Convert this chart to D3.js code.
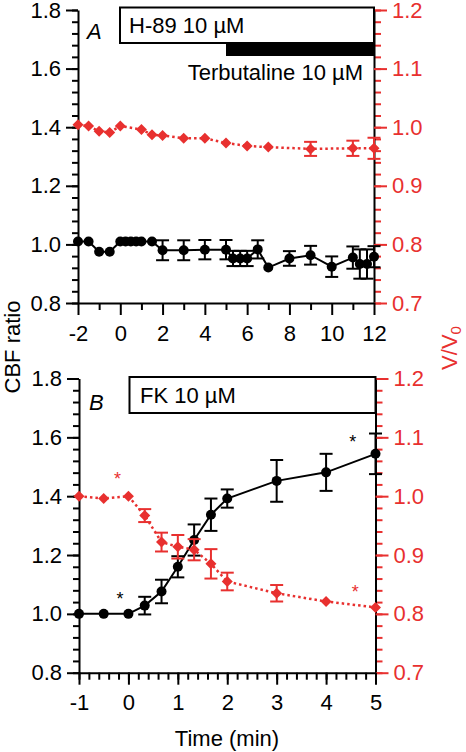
<!DOCTYPE html>
<html><head><meta charset="utf-8">
<script src="https://cdn.jsdelivr.net/npm/d3@7"></script>
<style>body{margin:0;background:#fff} text{font-family:"Liberation Sans",Arial,sans-serif}</style>
</head><body><svg id="c" width="466" height="752"></svg>
<script>
const RED = "#e8302f";
// ---- Panel A data ----
const timeA_cbf = [-2,-1.5,-1,-0.5,0,0.25,0.5,0.75,1,1.5,2,3,4,5,5.33,5.67,6,6.5,7,8,9,10,11,11.33,11.67,12];
const cbfA      = [1.01,1.01,0.975,0.975,1.01,1.01,1.01,1.01,1.01,1.01,0.98,0.98,0.982,0.982,0.952,0.952,0.952,0.983,0.921,0.952,0.963,0.924,0.955,0.933,0.933,0.958];
const cbfA_err  = [0,0,0,0,0,0,0,0,0,0,0.034,0.034,0.033,0.033,0.026,0.026,0.026,0.031,0,0.025,0.032,0.035,0.038,0.05,0.05,0.036];
const timeA_v   = [-2,-1.5,-1,-0.5,0,1,1.5,2,3,4,5,6,7,9,11,12];
const vA        = [1.004,1.002,0.993,0.991,1.002,0.996,0.987,0.986,0.981,0.981,0.973,0.968,0.966,0.963,0.964,0.964];
const vA_err    = [0,0,0,0,0,0,0,0,0,0,0,0,0,0.012,0.013,0.018];
// ---- Panel B data ----
const timeB     = [-1,-0.5,0,0.33,0.67,1,1.33,1.67,2,3,4,5];
const cbfB      = [1.0,1.0,1.0,1.028,1.076,1.16,1.251,1.337,1.392,1.452,1.481,1.544];
const cbfB_err  = [0,0,0,0.03,0.04,0.036,0.053,0.055,0.031,0.071,0.063,0.069];
const vB        = [1.0,0.996,1.0,0.967,0.922,0.914,0.909,0.885,0.855,0.835,0.821,0.811];
const vB_err    = [0,0,0,0.011,0.016,0.02,0.018,0.025,0.015,0.014,0,0];
// ---- ticks ----
const leftTicks = [0.8,1.0,1.2,1.4,1.6,1.8];
const rightTicks = [0.7,0.8,0.9,1.0,1.1,1.2];
const xTicksA = [-2,0,2,4,6,8,10,12];
const xTicksB = [-1,0,1,2,3,4,5];
// significance marks: [time, value, axis('L'|'R')]
const starsB = [[-0.17,1.056,"L"],[4.54,1.59,"L"],[-0.22,1.032,"R"],[4.59,0.84,"R"]];

const svg = d3.select("#c");
const FS = 22;
const intFmt = d => String(d);           // plain hyphen minus like the reference
const decFmt = d => d.toFixed(1);

function range(a,b,s){const r=[];for(let v=a;v<=b+1e-9;v+=s)r.push(+v.toFixed(4));return r;}

function panel(o){
  const g = svg.append("g");
  const x = d3.scaleLinear().domain(o.xd).range([o.x0,o.x1]);
  const y = d3.scaleLinear().domain([0.8,1.8]).range([o.y1,o.y0]);
  const yr = d3.scaleLinear().domain([0.7,1.2]).range([o.y1,o.y0]);

  // minor ticks
  g.append("g").attr("transform",`translate(${o.x0},0)`)
    .call(d3.axisLeft(y).tickValues(range(0.8,1.8,0.04)).tickSize(6).tickFormat("").tickSizeOuter(0))
    .call(s=>{s.select(".domain").remove();s.selectAll("line").attr("stroke","#000").attr("stroke-width",2);});
  g.append("g").attr("transform",`translate(${o.x1},0)`)
    .call(d3.axisRight(yr).tickValues(range(0.7,1.2,0.02)).tickSize(7).tickFormat("").tickSizeOuter(0))
    .call(s=>{s.select(".domain").remove();s.selectAll("line").attr("stroke",RED).attr("stroke-width",2);});
  g.append("g").attr("transform",`translate(0,${o.y1})`)
    .call(d3.axisBottom(x).tickValues(o.xminor).tickSize(7).tickFormat("").tickSizeOuter(0))
    .call(s=>{s.select(".domain").remove();s.selectAll("line").attr("stroke","#000").attr("stroke-width",2);});

  // major axes
  const la = g.append("g").attr("transform",`translate(${o.x0},0)`)
    .call(d3.axisLeft(y).tickValues(leftTicks).tickSize(12).tickPadding(5).tickFormat(decFmt).tickSizeOuter(0));
  la.select(".domain").attr("stroke-width",2);
  la.selectAll("line").attr("stroke-width",2);
  la.selectAll("text").attr("font-size",FS).attr("fill","#000");
  const ra = g.append("g").attr("transform",`translate(${o.x1},0)`)
    .call(d3.axisRight(yr).tickValues(rightTicks).tickSize(13).tickPadding(5).tickFormat(decFmt).tickSizeOuter(0));
  ra.select(".domain").attr("stroke","#000").attr("stroke-width",2);
  ra.selectAll("line").attr("stroke",RED).attr("stroke-width",2);
  ra.selectAll("text").attr("font-size",FS).attr("fill",RED);
  const ba = g.append("g").attr("transform",`translate(0,${o.y1})`)
    .call(d3.axisBottom(x).tickValues(o.xmajor).tickSize(12).tickPadding(10).tickFormat(intFmt).tickSizeOuter(0));
  ba.select(".domain").attr("stroke-width",2);
  ba.selectAll("line").attr("stroke-width",2);
  ba.selectAll("text").attr("font-size",FS).attr("fill","#000");
  g.selectAll(".domain").attr("stroke","#000");
  g.selectAll(".tick text").attr("font-family",'"Liberation Sans",Arial,sans-serif');

  // data
  function series(t,v,e,sc,color,dash,marker){
    const pts = t.map((d,i)=>({t:d,v:v[i],e:e[i]}));
    const line = d3.line().x(d=>x(d.t)).y(d=>sc(d.v));
    g.append("path").datum(pts).attr("d",line).attr("fill","none").attr("stroke",color)
      .attr("stroke-width",dash?2.5:2).attr("stroke-dasharray",dash?"2.5,3":null);
    const eb = g.append("g").attr("stroke",color).attr("stroke-width",2);
    pts.filter(d=>d.e>0).forEach(d=>{
      const cx=x(d.t), a=sc(d.v+d.e), b=sc(d.v-d.e);
      eb.append("line").attr("x1",cx).attr("x2",cx).attr("y1",a).attr("y2",b);
      eb.append("line").attr("x1",cx-6.5).attr("x2",cx+6.5).attr("y1",a).attr("y2",a);
      eb.append("line").attr("x1",cx-6.5).attr("x2",cx+6.5).attr("y1",b).attr("y2",b);
    });
    if(marker==="circle"){
      g.append("g").selectAll("circle").data(pts).join("circle")
        .attr("cx",d=>x(d.t)).attr("cy",d=>sc(d.v)).attr("r",5).attr("fill",color);
    } else {
      const r=5.5;
      g.append("g").selectAll("path").data(pts).join("path")
        .attr("transform",d=>`translate(${x(d.t)},${sc(d.v)})`)
        .attr("d",`M0,${-r}L${r},0L0,${r}L${-r},0Z`).attr("fill",color);
    }
  }
  o.draw(series,x,y,yr,g);
  return {g,x,y,yr};
}

// Panel A
panel({xd:[-2,12],x0:78,x1:374,y0:10,y1:303,xmajor:xTicksA,xminor:range(-1,11,2),
  draw:(series,x,y,yr,g)=>{
    series(timeA_cbf,cbfA,cbfA_err,y,"#000",false,"circle");
    series(timeA_v,vA,vA_err,yr,RED,true,"diamond");
    // treatment bars
    g.append("rect").attr("x",120).attr("y",7.5).attr("width",374-120).attr("height",35.5)
      .attr("fill","#fff").attr("stroke","#000").attr("stroke-width",2);
    g.append("rect").attr("x",x(5)).attr("y",43).attr("width",x(12)-x(5)).attr("height",13).attr("fill","#000");
    g.append("text").attr("x",129).attr("y",33).attr("font-size",FS).text("H-89 10 µM");
    g.append("text").attr("x",363).attr("y",80).attr("font-size",FS).attr("text-anchor","end").text("Terbutaline 10 µM");
    g.append("text").attr("x",87).attr("y",39).attr("font-size",FS).attr("font-style","italic").text("A");
  }});

// Panel B
panel({xd:[-1,5],x0:79,x1:375.5,y0:378.5,y1:672.7,xmajor:xTicksB,xminor:range(-1,5,0.2),
  draw:(series,x,y,yr,g)=>{
    series(timeB,cbfB,cbfB_err,y,"#000",false,"circle");
    series(timeB,vB,vB_err,yr,RED,true,"diamond");
    g.append("rect").attr("x",129.5).attr("y",377).attr("width",375.5-129.5).attr("height",36)
      .attr("fill","#fff").attr("stroke","#000").attr("stroke-width",2);
    g.append("text").attr("x",140).attr("y",403).attr("font-size",FS).text("FK 10 µM");
    g.append("text").attr("x",89).attr("y",410).attr("font-size",FS).attr("font-style","italic").text("B");
    starsB.forEach(s=>{
      const sc = s[2]==="L"?y:yr;
      g.append("text").attr("x",x(s[0])).attr("y",sc(s[1])+8).attr("text-anchor","middle")
        .attr("font-size",18).attr("fill",s[2]==="L"?"#000":RED).text("*");
    });
  }});

// axis titles
svg.append("text").attr("transform","translate(19.5,347) rotate(-90)").attr("text-anchor","middle")
  .attr("font-size",FS).text("CBF ratio");
const vt = svg.append("text").attr("transform","translate(457,348) rotate(-90)").attr("text-anchor","middle")
  .attr("font-size",FS).attr("fill",RED);
vt.append("tspan").text("V/V");
vt.append("tspan").attr("font-size",15).attr("dy",4).text("0");
svg.append("text").attr("x",227).attr("y",746).attr("text-anchor","middle").attr("font-size",FS).text("Time (min)");
</script></body></html>
